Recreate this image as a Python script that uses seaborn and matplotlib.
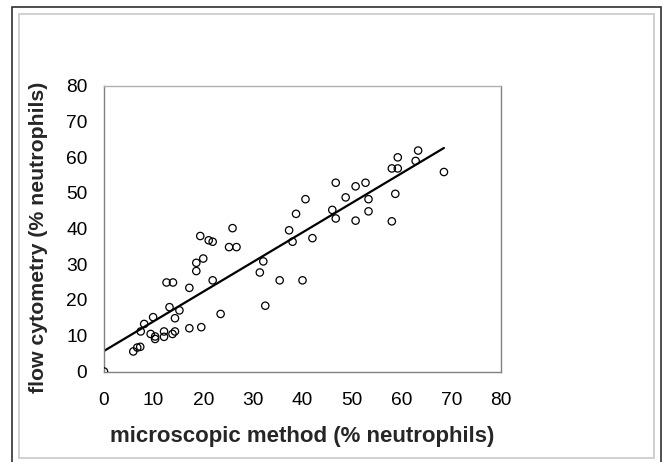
import matplotlib
matplotlib.use("Agg")
import matplotlib.pyplot as plt
import matplotlib.patches as mpatches
import numpy as np
import pandas as pd
import seaborn as sns

# % neutrophils, microscopic method vs flow cytometry
microscopic = [0, 5.9, 6.7, 7.3, 7.4, 8.1, 9.4, 9.9, 10.3, 10.3,
               12.1, 12.1, 12.6, 13.9, 13.2, 13.8, 14.3, 14.3, 15.2, 17.2,
               17.2, 18.6, 18.6, 19.4, 19.6, 20.0, 21.1, 21.9, 21.9, 23.5,
               25.2, 26.7, 25.9, 31.4, 32.1, 32.5, 35.4, 40.0, 37.3, 38.0,
               38.7, 40.6, 42.0, 46.0, 46.7, 46.7, 48.7, 50.7, 50.7, 52.7,
               53.3, 53.3, 58.0, 59.2, 59.2, 58.7, 58.0, 62.8, 63.3, 68.5]
flow = [0, 5.6, 6.7, 6.9, 11.2, 13.3, 10.5, 15.2, 9.8, 9.1,
        11.2, 9.7, 24.9, 24.9, 18.0, 10.5, 11.2, 14.9, 17.1, 23.4,
        12.1, 28.1, 30.4, 37.9, 12.4, 31.6, 36.7, 36.3, 25.5, 16.1,
        34.8, 34.8, 40.1, 27.7, 30.8, 18.4, 25.5, 25.5, 39.5, 36.3,
        44.1, 48.2, 37.3, 45.2, 52.8, 42.8, 48.7, 51.8, 42.2, 52.8,
        48.2, 44.8, 56.8, 56.8, 59.9, 49.7, 42.0, 58.9, 61.8, 55.8]
ticks = [0, 10, 20, 30, 40, 50, 60, 70, 80]

df = pd.DataFrame({"microscopic": microscopic, "flow": flow})

sns.set_style("white")
plt.rcParams["font.family"] = ["Liberation Sans", "DejaVu Sans"]

fig = plt.figure(figsize=(6.63, 4.62), dpi=100)
ax = fig.add_axes([104 / 663, 1 - 371.5 / 462, 397 / 663, 286 / 462])

# outer frames (excel-style chart border)
fig.patches.append(mpatches.Rectangle((11.5 / 663, -0.01), (661 - 11.5) / 663, (462 - 6.5) / 462 + 0.01,
                                      transform=fig.transFigure, fill=False,
                                      edgecolor="#303030", linewidth=1.2, zorder=0))
fig.patches.append(mpatches.Rectangle((19 / 663, 1 - 458 / 462), (654 - 19) / 663, (458 - 14) / 462,
                                      transform=fig.transFigure, fill=False,
                                      edgecolor="#c8c8c8", linewidth=1.2, zorder=0))

sns.regplot(x="microscopic", y="flow", data=df, scatter=False, ci=None,
            line_kws={"color": "black", "linewidth": 1.6}, ax=ax)
sns.scatterplot(x="microscopic", y="flow", data=df, marker="o", s=28,
                facecolor="none", edgecolor="black", linewidth=0.9, ax=ax, zorder=3)

ax.set_xlim(0, 80)
ax.set_ylim(0, 80)
ax.set_xticks(ticks)
ax.set_yticks(ticks)
ax.tick_params(axis="both", direction="out", length=4, width=0.8, color="#a0a0a0",
               labelsize=13.8, labelcolor="black")
ax.tick_params(axis="x", pad=11)
ax.tick_params(axis="y", pad=8)
for side in ["left", "bottom", "right"]:
    ax.spines[side].set_color("#808080")
    ax.spines[side].set_linewidth(1.0)
ax.spines["top"].set_color("#b0b0b0")
ax.spines["top"].set_linewidth(1.0)

ax.set_xlabel("microscopic method (% neutrophils)", fontsize=16, fontweight="bold", labelpad=12)
ax.set_ylabel("flow cytometry (% neutrophils)", fontsize=15.3, fontweight="bold")
ax.yaxis.set_label_coords(-0.14, 0.47)

fig.savefig("out.png", dpi=100)
